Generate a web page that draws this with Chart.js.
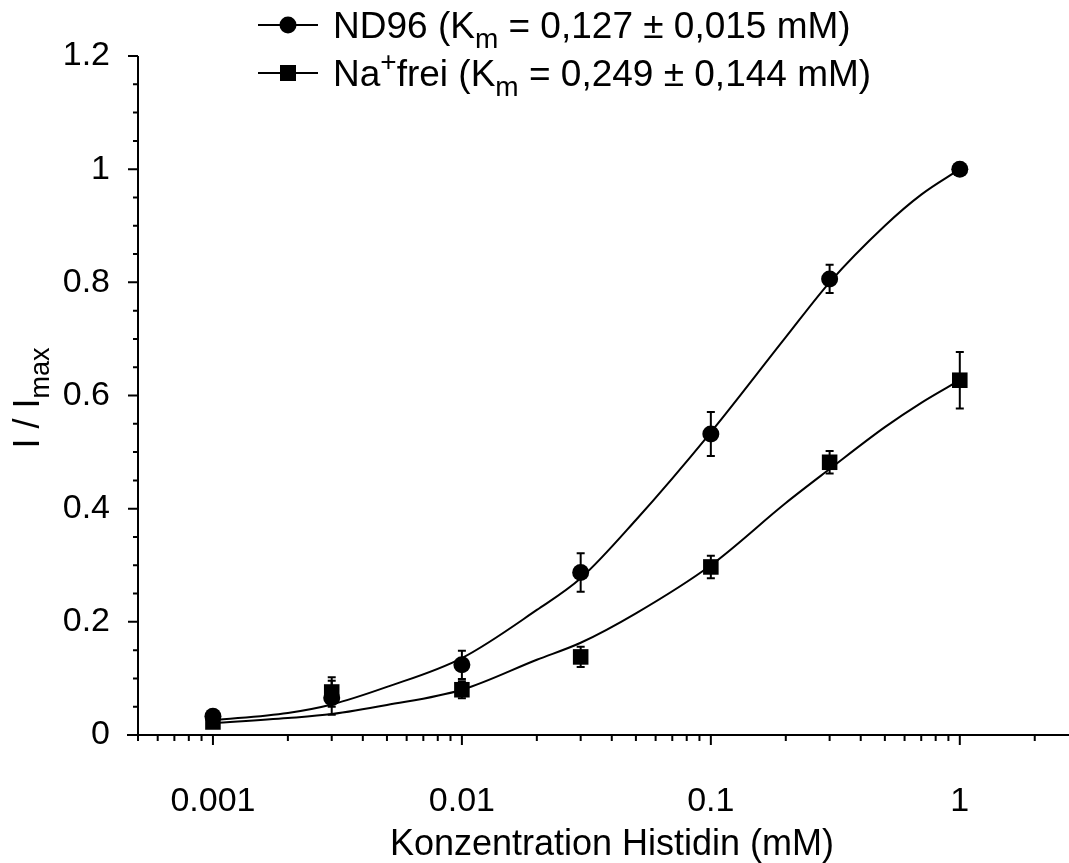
<!DOCTYPE html>
<html>
<head>
<meta charset="utf-8">
<script src="https://cdn.jsdelivr.net/npm/chart.js@4.4.0/dist/chart.umd.min.js"></script>
<style>
    html, body { margin: 0; padding: 0; background: #fff; }
    #wrap { width: 1069px; height: 863px; }
</style>
</head>
<body>
<div id="wrap"><canvas id="chart" width="1069" height="863"></canvas></div>
<script>
// Measured points
const conc = [0.001, 0.003, 0.01, 0.03, 0.1, 0.3, 1];
const nd96 = [0.033, 0.066, 0.124, 0.287, 0.532, 0.806, 1.0];
const nd96Err = [0.008, 0.03, 0.025, 0.034, 0.039, 0.025, 0];
const naFrei = [0.023, 0.076, 0.080, 0.138, 0.297, 0.482, 0.627];
const naFreiErr = [0.006, 0.026, 0.015, 0.018, 0.02, 0.02, 0.05];

// Fit curves
const fitConc = [0.001, 0.002, 0.003, 0.005, 0.01, 0.02, 0.03, 0.05, 0.1, 0.2, 0.3, 0.5, 0.7, 1];
const nd96Fit = [0.026, 0.039, 0.054, 0.085, 0.136, 0.221, 0.277, 0.38, 0.535, 0.703, 0.80, 0.90, 0.955, 1.0];
const naFreiFit = [0.021, 0.030, 0.037, 0.053, 0.08, 0.133, 0.163, 0.215, 0.30, 0.41, 0.47, 0.544, 0.587, 0.627];

// Axis ticks
const xMajor = [0.001, 0.01, 0.1, 1];
const xMinor = [0.0005, 0.0006, 0.0007, 0.0008, 0.0009,
    0.002, 0.003, 0.004, 0.005, 0.006, 0.007, 0.008, 0.009,
    0.02, 0.03, 0.04, 0.05, 0.06, 0.07, 0.08, 0.09,
    0.2, 0.3, 0.4, 0.5, 0.6, 0.7, 0.8, 0.9, 2];
const yMajor = [0, 0.2, 0.4, 0.6, 0.8, 1, 1.2];
const yMinor = [0.05, 0.1, 0.15, 0.25, 0.3, 0.35, 0.45, 0.5, 0.55, 0.65, 0.7, 0.75, 0.85, 0.9, 0.95, 1.05, 1.1, 1.15];

const FONT = '"Liberation Sans", Arial, sans-serif';

function pts(xs, ys) {
    return xs.map((x, i) => ({ x: x, y: ys[i] }));
}

// error bars + tick marks + texts
const extras = {
    id: 'extras',
    beforeDatasetsDraw(chart) {
        const ctx = chart.ctx;
        const xs = chart.scales.x, ys = chart.scales.y;
        ctx.save();
        ctx.strokeStyle = '#000';
        ctx.lineWidth = 2;
        [[nd96, nd96Err], [naFrei, naFreiErr]].forEach(([vals, errs]) => {
            vals.forEach((v, i) => {
                if (!errs[i]) return;
                const px = xs.getPixelForValue(conc[i]);
                const top = ys.getPixelForValue(v + errs[i]);
                const bot = ys.getPixelForValue(v - errs[i]);
                ctx.beginPath();
                ctx.moveTo(px, top); ctx.lineTo(px, bot);
                ctx.moveTo(px - 4, top); ctx.lineTo(px + 4, top);
                ctx.moveTo(px - 4, bot); ctx.lineTo(px + 4, bot);
                ctx.stroke();
            });
        });
        ctx.restore();
    },
    afterDraw(chart) {
        const ctx = chart.ctx;
        const xs = chart.scales.x, ys = chart.scales.y;
        const area = chart.chartArea;
        ctx.save();
        ctx.strokeStyle = '#000';
        ctx.lineWidth = 2;
        ctx.beginPath();
        // axis lines (x axis runs on to the picture edge)
        ctx.moveTo(area.left - 11, area.bottom); ctx.lineTo(chart.width, area.bottom);
        ctx.moveTo(area.left, area.top); ctx.lineTo(area.left, area.bottom);
        xMajor.forEach(v => {
            const p = xs.getPixelForValue(v);
            ctx.moveTo(p, area.bottom); ctx.lineTo(p, area.bottom + 10);
        });
        xMinor.forEach(v => {
            const p = xs.getPixelForValue(v);
            ctx.moveTo(p, area.bottom); ctx.lineTo(p, area.bottom + 6);
        });
        yMajor.forEach(v => {
            const p = ys.getPixelForValue(v);
            ctx.moveTo(area.left, p); ctx.lineTo(area.left - 10, p);
        });
        yMinor.forEach(v => {
            const p = ys.getPixelForValue(v);
            ctx.moveTo(area.left, p); ctx.lineTo(area.left - 5, p);
        });
        ctx.stroke();

        ctx.fillStyle = '#000';
        ctx.textBaseline = 'alphabetic';

        // x title
        ctx.font = '36px ' + FONT;
        ctx.textAlign = 'center';
        ctx.fillText('Konzentration Histidin (mM)', 612, 855);

        // y title with subscript
        ctx.save();
        ctx.translate(39, 398);
        ctx.rotate(-Math.PI / 2);
        ctx.textAlign = 'left';
        ctx.font = '36px ' + FONT;
        const main = 'I / I';
        const wMain = ctx.measureText(main).width;
        ctx.font = '27px ' + FONT;
        const wSub = ctx.measureText('max').width;
        const start = -(wMain + wSub) / 2;
        ctx.font = '36px ' + FONT;
        ctx.fillText(main, start, 0);
        ctx.font = '27px ' + FONT;
        ctx.fillText('max', start + wMain, 10);
        ctx.restore();

        // legend
        const rows = [
            { y: 25, style: 'circle', parts: [['ND96 (K', 0], ['m', 1], [' = 0,127 ± 0,015 mM)', 0]] },
            { y: 73, style: 'rect', parts: [['Na', 0], ['+', -1], ['frei (K', 0], ['m', 1], [' = 0,249 ± 0,144 mM)', 0]] }
        ];
        rows.forEach(r => {
            ctx.beginPath();
            ctx.moveTo(258, r.y); ctx.lineTo(318, r.y);
            ctx.stroke();
            if (r.style === 'circle') {
                ctx.beginPath();
                ctx.arc(288, r.y, 8.5, 0, Math.PI * 2);
                ctx.fill();
            } else {
                ctx.fillRect(280, r.y - 8, 16, 16);
            }
            let x = 333;
            r.parts.forEach(([t, s]) => {
                ctx.font = (s ? '28px ' : '37px ') + FONT;
                ctx.textAlign = 'left';
                ctx.fillText(t, x, r.y + 13 + (s === 1 ? 10 : s === -1 ? -15 : 0));
                x += ctx.measureText(t).width;
            });
        });
        ctx.restore();
    }
};

const ctx = document.getElementById('chart').getContext('2d');
new Chart(ctx, {
    type: 'scatter',
    data: {
        datasets: [
            {
                data: pts(fitConc, nd96Fit),
                showLine: true,
                borderColor: '#000',
                borderWidth: 2,
                pointRadius: 0,
                cubicInterpolationMode: 'monotone'
            },
            {
                data: pts(fitConc, naFreiFit),
                showLine: true,
                borderColor: '#000',
                borderWidth: 2,
                pointRadius: 0,
                cubicInterpolationMode: 'monotone'
            },
            {
                data: pts(conc, nd96),
                pointStyle: 'circle',
                pointRadius: 8.5,
                backgroundColor: '#000',
                borderColor: '#000',
                borderWidth: 0
            },
            {
                data: pts(conc, naFrei),
                pointStyle: 'rect',
                pointRadius: 11,
                backgroundColor: '#000',
                borderColor: '#000',
                borderWidth: 0
            }
        ]
    },
    options: {
        responsive: false,
        animation: false,
        layout: { padding: { top: 56, right: 0, left: 0, bottom: 0 } },
        plugins: {
            legend: { display: false },
            tooltip: { enabled: false }
        },
        scales: {
            x: {
                type: 'logarithmic',
                min: 0.0005,
                max: 2.48,
                grid: { display: false, drawTicks: false },
                border: { display: false },
                afterBuildTicks: axis => { axis.ticks = xMajor.map(v => ({ value: v })); },
                afterFit: axis => { axis.height = 128; },
                ticks: {
                    autoSkip: false,
                    maxRotation: 0,
                    padding: 46,
                    color: '#000',
                    font: { family: FONT, size: 34 },
                    callback: v => String(v)
                }
            },
            y: {
                min: 0,
                max: 1.2,
                grid: { display: false, drawTicks: false },
                border: { display: false },
                afterBuildTicks: axis => { axis.ticks = yMajor.map(v => ({ value: v })); },
                afterFit: axis => { axis.width = 138; },
                ticks: {
                    padding: 28,
                    color: '#000',
                    font: { family: FONT, size: 34 },
                    callback: v => String(v)
                }
            }
        }
    },
    plugins: [extras]
});
</script>
</body>
</html>
